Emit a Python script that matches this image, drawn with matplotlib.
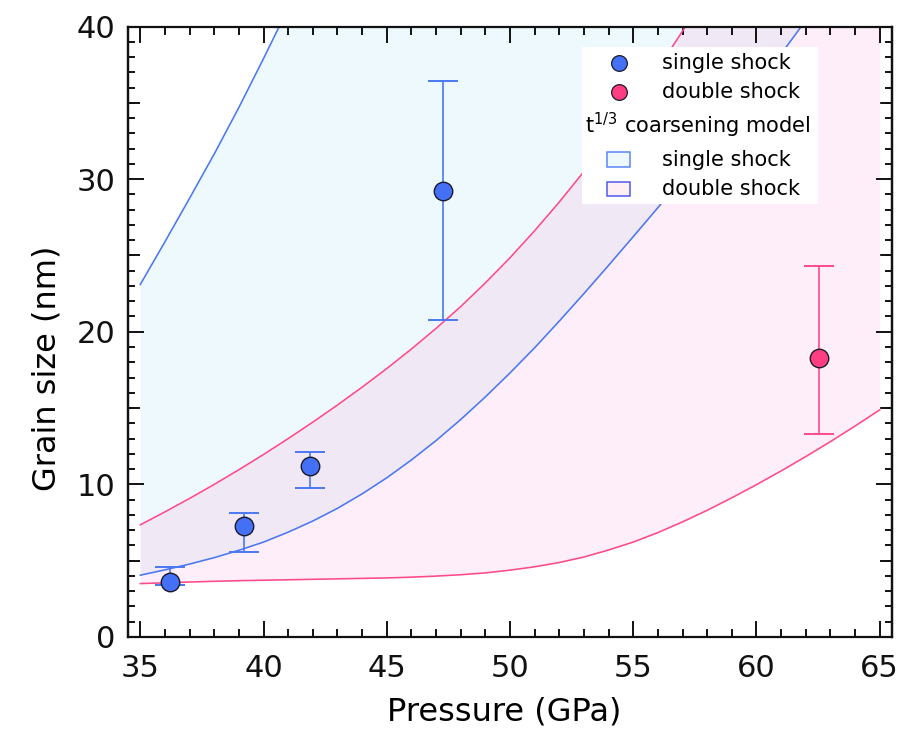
import numpy as np
import matplotlib
matplotlib.use("Agg")
import matplotlib.pyplot as plt
from matplotlib.lines import Line2D
from matplotlib.patches import Rectangle
from matplotlib.offsetbox import AnchoredOffsetbox, VPacker, HPacker, DrawingArea, TextArea
from matplotlib.ticker import MultipleLocator, FixedLocator, NullLocator

# ---------------- data ----------------
single_p = [36.2, 39.2, 41.9, 47.3]
single_d = [3.6, 7.3, 11.2, 29.2]
single_err_lo = [0.2, 1.7, 1.45, 8.4]
single_err_hi = [1.0, 0.8, 0.9, 7.2]

double_p = [62.55]
double_d = [18.3]
double_err_lo = [5.0]
double_err_hi = [6.0]

model_p = [35, 36, 37, 38, 39, 40, 41, 42, 43, 44, 45, 46, 47, 48, 49, 50,
           51, 52, 53, 54, 55, 56, 57, 58, 59, 60, 61, 62, 63, 64, 65]

single_low_p = model_p[:28]
single_low = [4.05, 4.4, 4.78, 5.2, 5.68, 6.22, 6.87, 7.6, 8.43, 9.38, 10.43, 11.6,
              12.87, 14.25, 15.73, 17.3, 18.95, 20.7, 22.5, 24.35, 26.23, 28.13,
              30.05, 32.0, 34.0, 36.05, 38.2, 40.4]
single_high_p = model_p[:8]
single_high = [23.1, 25.9, 28.75, 31.65, 34.7, 37.9, 41.2, 44.6]

double_high_p = model_p[:24]
double_high = [7.35, 8.2, 9.08, 10.0, 10.96, 11.96, 13.0, 14.08, 15.2, 16.37, 17.59,
               18.87, 20.22, 21.65, 23.2, 24.85, 26.62, 28.5, 30.5, 32.62, 34.86,
               37.22, 39.7, 42.3]
double_low_p = model_p
double_low = [3.5, 3.55, 3.6, 3.65, 3.69, 3.72, 3.75, 3.78, 3.81, 3.84, 3.87, 3.92,
              3.99, 4.08, 4.2, 4.38, 4.6, 4.88, 5.24, 5.7, 6.22, 6.84, 7.54, 8.3,
              9.12, 9.98, 10.88, 11.82, 12.8, 13.82, 14.88]

x_ticks = [35, 40, 45, 50, 55, 60, 65]
y_ticks = [0, 10, 20, 30, 40]

# ---------------- style ----------------
BLUE = "#4470F5"
BLUE_LINE = "#4A78F2"
PINK = "#FF3D82"
PINK_LINE = "#FF4A8A"
CYAN_FILL = "#EEF9FE"
PINK_FILL = "#FDEEFA"
LAV_FILL = "#F0E8F5"

plt.rcParams["font.family"] = ["DejaVu Sans"]

fig = plt.figure(figsize=(9.21, 7.35), dpi=100)
ax = fig.add_axes([128 / 921, 1 - 637 / 735, 764 / 921, 610.5 / 735])

grid = np.array(model_p, dtype=float)
s_lo = np.interp(grid, single_low_p, single_low)
s_hi = np.interp(grid, single_high_p, single_high)
d_lo = np.interp(grid, double_low_p, double_low)
d_hi = np.interp(grid, double_high_p, double_high)

ax.fill_between(grid, s_lo, s_hi, color=CYAN_FILL, lw=0, zorder=1)
ax.fill_between(grid, d_lo, d_hi, color=PINK_FILL, lw=0, zorder=1)
ax.fill_between(grid, s_lo, d_hi, where=d_hi > s_lo, color=LAV_FILL, lw=0, zorder=1.1)

ax.plot(single_low_p, single_low, color=BLUE_LINE, lw=1.15, zorder=2)
ax.plot(single_high_p, single_high, color=BLUE_LINE, lw=1.15, zorder=2)
ax.plot(double_low_p, double_low, color=PINK_LINE, lw=1.15, zorder=2)
ax.plot(double_high_p, double_high, color=PINK_LINE, lw=1.15, zorder=2)

ax.errorbar(single_p, single_d, yerr=[single_err_lo, single_err_hi], fmt="none",
            ecolor=BLUE_LINE, elinewidth=1.2, capsize=11, capthick=1.4, zorder=3)
ax.errorbar(double_p, double_d, yerr=[double_err_lo, double_err_hi], fmt="none",
            ecolor=PINK_LINE, elinewidth=1.2, capsize=11, capthick=1.4, zorder=3)
ax.plot(single_p, single_d, ls="none", marker="o", ms=13.3, mfc=BLUE, mec="#1a1a2a",
        mew=1.0, zorder=4)
ax.plot(double_p, double_d, ls="none", marker="o", ms=13.3, mfc=PINK, mec="#1a1a2a",
        mew=1.0, zorder=4)

ax.set_xlim(34.5, 65.5)
ax.set_ylim(0, 40)
ax.xaxis.set_major_locator(FixedLocator(x_ticks))
ax.xaxis.set_minor_locator(MultipleLocator(1))
ax.yaxis.set_major_locator(FixedLocator(y_ticks))
ax.yaxis.set_minor_locator(MultipleLocator(1))
ax.tick_params(which="both", direction="in", top=True, right=True, width=1.4,
               colors="#111111", labelsize=22)
ax.tick_params(axis="x", which="major", length=11.5, pad=12)
ax.tick_params(axis="x", which="minor", length=5.8)
ax.tick_params(axis="y", which="major", length=11.5, pad=9)
ax.tick_params(axis="y", which="minor", length=5.0)
for sp in ax.spines.values():
    sp.set_linewidth(1.6)
    sp.set_color("#111111")

for side in ("left", "right"):
    sec = ax.secondary_yaxis(side)
    sec.yaxis.set_major_locator(FixedLocator([5, 15, 25, 35]))
    sec.yaxis.set_minor_locator(NullLocator())
    sec.tick_params(direction="in", length=8.5, width=1.4, colors="#111111",
                    labelleft=False, labelright=False)
    sec.spines[side].set_linewidth(1.6)

ax.set_xlabel("Pressure (GPa)", fontsize=23)
ax.set_ylabel("Grain size (nm)", fontsize=23)
ax.xaxis.set_label_coords(0.492, -0.098)
ax.yaxis.set_label_coords(-0.086, 0.44)

# ---------------- legend ----------------
FS = 15
ROW_H = 21
HW = 52


def marker_row(color, label):
    da = DrawingArea(HW, ROW_H, 0, 0)
    da.add_artist(Line2D([HW / 2], [ROW_H / 2], ls="none", marker="o", ms=11.3,
                         mfc=color, mec="#1a1a2a", mew=0.9))
    return HPacker(children=[da, TextArea(label, textprops=dict(fontsize=FS))],
                   align="center", pad=0, sep=5)


def patch_row(face, edge, label):
    da = DrawingArea(HW, ROW_H, 0, 0)
    w, h = 16.3, 10.6
    da.add_artist(Rectangle((HW / 2 - w / 2, ROW_H / 2 - h / 2), w, h, fc=face,
                            ec=edge, lw=1.1))
    return HPacker(children=[da, TextArea(label, textprops=dict(fontsize=FS))],
                   align="center", pad=0, sep=5)


header = HPacker(children=[DrawingArea(0.5, ROW_H + 7, 0, 0),
                           TextArea(r"t$^{\mathregular{1/3}}$ coarsening model",
                                    textprops=dict(fontsize=FS)),
                           DrawingArea(4, 1, 0, 0)],
                 align="center", pad=0, sep=1)

rows = [marker_row(BLUE, "single shock"),
        marker_row(PINK, "double shock"),
        header,
        patch_row(CYAN_FILL, "#5A86F5", "single shock"),
        patch_row("#FFEEF4", "#5058F0", "double shock")]
vbox = VPacker(children=rows, align="left", pad=0, sep=0)
leg = AnchoredOffsetbox(loc="upper left", child=vbox, pad=0.05, borderpad=0,
                        frameon=True, bbox_to_anchor=(0.594, 0.966),
                        bbox_transform=ax.transAxes)
leg.patch.set_facecolor("white")
leg.patch.set_edgecolor("none")
leg.set_zorder(6)
ax.add_artist(leg)

fig.savefig("out.png", dpi=100)
